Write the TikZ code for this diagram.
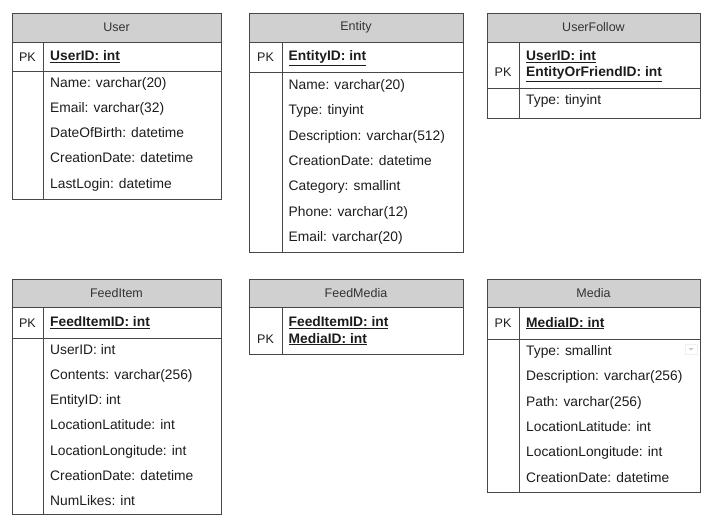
\documentclass[tikz,border=0pt]{standalone}
\usepackage{fontspec}
\setmainfont{Liberation Sans}
\usepackage{tikz}
\usetikzlibrary{calc}

\definecolor{head_gray}{HTML}{D0D0D0}
\definecolor{line_gray}{HTML}{474747}
\definecolor{title_gray}{HTML}{333333}
\definecolor{field_black}{HTML}{1C1C1C}

\begin{document}
\begin{tikzpicture}[x=1pt, y=-1pt,
        box_style/.style={draw=line_gray, line width=1pt},
        head_box_style/.style={draw=line_gray, line width=1pt, fill=head_gray},
        title_style/.style={inner sep=0pt, font=\fontsize{12.5}{14}\selectfont, text=title_gray},
        pk_style/.style={inner sep=0pt, font=\fontsize{12.5}{14}\selectfont, text=field_black},
        key_style/.style={anchor=west, inner sep=0pt, text height=9.9pt, text depth=2.9pt,
            font=\fontsize{13.8}{16}\selectfont\bfseries, text=field_black},
        field_style/.style={anchor=west, inner sep=0pt, text height=9.9pt, text depth=2.9pt,
            font=\fontsize{13.8}{16}\selectfont, text=field_black}]

        \useasboundingbox (0,0) rectangle (713,530);

        % User
        \draw [head_box_style] (12,13) rectangle (221,42);
        \draw [box_style] (12,42) rectangle (221,71);
        \draw [box_style] (12,71) rectangle (221,199);
        \draw [box_style] (43,42) -- (43,199);
        \node [title_style](user_title) at (116.5,27.5) {User};
        \node [pk_style](user_pk) at (27.5,57) {PK};
        \node [key_style](user_id) at (50,57) {\underline{UserID: int}};
        \node [field_style](user_name) at (50,83.5) {Name: varchar(20)};
        \node [field_style](user_email) at (50,108.7) {Email: varchar(32)};
        \node [field_style](user_dob) at (50,134) {DateOfBirth: datetime};
        \node [field_style](user_created) at (50,159.2) {CreationDate: datetime};
        \node [field_style](user_login) at (50,184.5) {LastLogin: datetime};

        % Entity
        \draw [head_box_style] (249,13) rectangle (463,42);
        \draw [box_style] (249,42) rectangle (463,72);
        \draw [box_style] (249,72) rectangle (463,252);
        \draw [box_style] (282,42) -- (282,252);
        \node [title_style](entity_title) at (356,27.5) {Entity};
        \node [pk_style](entity_pk) at (265.5,57) {PK};
        \node [key_style](entity_id) at (288.5,57) {\underline{EntityID: int}};
        \node [field_style](entity_name) at (288.5,86) {Name: varchar(20)};
        \node [field_style](entity_type) at (288.5,111.3) {Type: tinyint};
        \node [field_style](entity_desc) at (288.5,136.6) {Description: varchar(512)};
        \node [field_style](entity_created) at (288.5,162) {CreationDate: datetime};
        \node [field_style](entity_cat) at (288.5,187.3) {Category: smallint};
        \node [field_style](entity_phone) at (288.5,212.6) {Phone: varchar(12)};
        \node [field_style](entity_email) at (288.5,238) {Email: varchar(20)};

        % UserFollow
        \draw [head_box_style] (487,13) rectangle (700,42);
        \draw [box_style] (487,42) rectangle (700,88);
        \draw [box_style] (487,88) rectangle (700,118);
        \draw [box_style] (519.5,42) -- (519.5,118);
        \node [title_style](follow_title) at (593.5,27.5) {UserFollow};
        \node [pk_style](follow_pk) at (503,72.5) {PK};
        \node [key_style](follow_user) at (526,57) {\underline{UserID: int}};
        \node [key_style](follow_target) at (526,73) {\underline{EntityOrFriendID: int}};
        \node [field_style](follow_type) at (526,101) {Type: tinyint};

        % FeedItem
        \draw [head_box_style] (12,279.5) rectangle (221,307.5);
        \draw [box_style] (12,307.5) rectangle (221,338);
        \draw [box_style] (12,338) rectangle (221,514);
        \draw [box_style] (43,307.5) -- (43,514);
        \node [title_style](item_title) at (116.5,293.5) {FeedItem};
        \node [pk_style](item_pk) at (27.5,322.7) {PK};
        \node [key_style](item_id) at (50,322.7) {\underline{FeedItemID: int}};
        \node [field_style](item_user) at (50,350.5) {UserID: int};
        \node [field_style](item_contents) at (50,375.8) {Contents: varchar(256)};
        \node [field_style](item_entity) at (50,401) {EntityID: int};
        \node [field_style](item_lat) at (50,426.3) {LocationLatitude: int};
        \node [field_style](item_long) at (50,451.5) {LocationLongitude: int};
        \node [field_style](item_created) at (50,476.8) {CreationDate: datetime};
        \node [field_style](item_likes) at (50,502) {NumLikes: int};

        % FeedMedia
        \draw [head_box_style] (249,279.5) rectangle (463,307.5);
        \draw [box_style] (249,307.5) rectangle (463,354);
        \draw [box_style] (282,307.5) -- (282,354);
        \node [title_style](link_title) at (356,293.5) {FeedMedia};
        \node [pk_style](link_pk) at (265.5,339) {PK};
        \node [key_style](link_item) at (288.5,323) {\underline{FeedItemID: int}};
        \node [key_style](link_media) at (288.5,339.5) {\underline{MediaID: int}};

        % Media
        \draw [head_box_style] (487,279.5) rectangle (700,307.5);
        \draw [box_style] (487,307.5) rectangle (700,339);
        \draw [box_style] (487,339) rectangle (700,492);
        \draw [box_style] (519.5,307.5) -- (519.5,492);
        \node [title_style](media_title) at (593.5,293.5) {Media};
        \node [pk_style](media_pk) at (503,323.5) {PK};
        \node [key_style](media_id) at (526,323.5) {\underline{MediaID: int}};
        \node [field_style](media_type) at (526,352) {Type: smallint};
        \node [field_style](media_desc) at (526,377.3) {Description: varchar(256)};
        \node [field_style](media_path) at (526,402.6) {Path: varchar(256)};
        \node [field_style](media_lat) at (526,428) {LocationLatitude: int};
        \node [field_style](media_long) at (526,453.3) {LocationLongitude: int};
        \node [field_style](media_created) at (526,478.5) {CreationDate: datetime};
        \draw [draw=gray!12, line width=0.6pt] (685,344) rectangle (697,354);
        \fill [gray!45] (688.5,348) -- (693.5,348) -- (691,350.5) -- cycle;
\end{tikzpicture}
\end{document}
